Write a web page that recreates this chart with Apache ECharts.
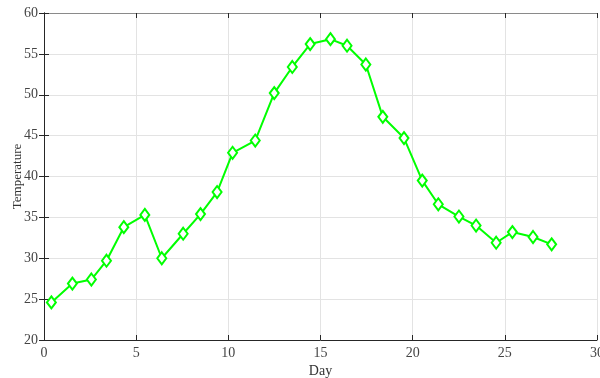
<!DOCTYPE html>
<html>
<head>
<meta charset="utf-8">
<script src="https://cdn.jsdelivr.net/npm/echarts@6/dist/echarts.min.js"></script>
<style>
  html, body { margin: 0; padding: 0; background: #fff; }
  #chart { width: 600px; height: 378px; }
</style>
</head>
<body>
<div id="chart"></div>
<script>
  // day positions and temperatures
  let days = [0.4, 1.54, 2.57, 3.39, 4.33, 5.47, 6.39, 7.55, 8.49, 9.39,
              10.23, 11.46, 12.49, 13.47, 14.44, 15.54, 16.44, 17.46, 18.38, 19.53,
              20.52, 21.39, 22.51, 23.44, 24.53, 25.41, 26.53, 27.54]
  let temps = [24.6, 26.9, 27.4, 29.7, 33.8, 35.3, 30.0, 33.0, 35.4, 38.1,
               42.9, 44.4, 50.2, 53.4, 56.2, 56.8, 56.0, 53.7, 47.3, 44.7,
               39.5, 36.6, 35.1, 34.0, 31.9, 33.2, 32.6, 31.7]

  let serif = 'Liberation Serif'
  let myChart = echarts.init(document.getElementById('chart'))

  let points = days.map((d, i) => [d, temps[i]])

  let tick = { show: true, inside: true, length: 5, lineStyle: { color: '#262626' } }

  let option = {
    animation: false,
    grid: { left: 44, right: 3, top: 13, bottom: 38, outerBoundsMode: 'none' },
    xAxis: [{
      type: 'value',
      min: 0, max: 30, interval: 5,
      name: 'Day',
      nameLocation: 'middle',
      nameGap: 24,
      nameMoveOverlap: false,
      nameTextStyle: { fontFamily: serif, fontSize: 14, color: '#333' },
      axisLine: { show: true, onZero: false, lineStyle: { color: '#262626' } },
      axisTick: tick,
      axisLabel: { fontFamily: serif, fontSize: 14, color: '#444', margin: 6 },
      splitLine: { show: true, lineStyle: { color: '#e3e3e3' } }
    }, {
      type: 'value', position: 'top', min: 0, max: 30, interval: 5,
      axisLine: { show: true, lineStyle: { color: '#8a8a8a' } },
      axisTick: tick,
      axisLabel: { show: false },
      splitLine: { show: false }
    }],
    yAxis: [{
      type: 'value',
      min: 20, max: 60, interval: 5,
      name: 'Temperature',
      nameLocation: 'middle',
      nameGap: 20,
      nameMoveOverlap: false,
      nameTextStyle: { fontFamily: serif, fontSize: 13, color: '#333' },
      axisLine: { show: true, onZero: false, lineStyle: { color: '#262626' } },
      axisTick: tick,
      axisLabel: { fontFamily: serif, fontSize: 14, color: '#444', margin: 6 },
      splitLine: { show: true, lineStyle: { color: '#e3e3e3' } }
    }, {
      type: 'value', position: 'right', min: 20, max: 60, interval: 5,
      axisLine: { show: true, lineStyle: { color: '#262626' } },
      axisTick: tick,
      axisLabel: { show: false },
      splitLine: { show: false }
    }],
    series: [{
      name: 'Temperature',
      type: 'line',
      data: points,
      symbol: 'diamond',
      symbolSize: [9, 12],
      showAllSymbol: true,
      lineStyle: { color: '#00ff00', width: 2 },
      itemStyle: { color: '#ffffff', borderColor: '#00ff00', borderWidth: 2 }
    }]
  }
  myChart.setOption(option)
</script>
</body>
</html>
